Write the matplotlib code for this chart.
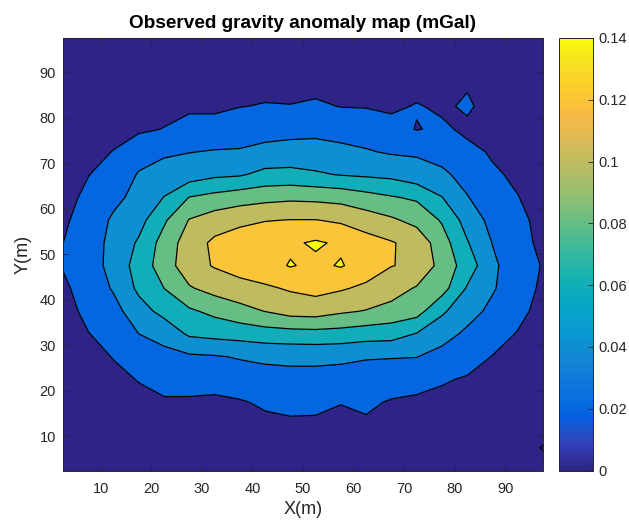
import numpy as np
import matplotlib
matplotlib.use("Agg")
import matplotlib.pyplot as plt
from matplotlib.colors import LinearSegmentedColormap, Normalize
from matplotlib.cm import ScalarMappable

# ---------------- data (mGal), grid spacing 5 m ----------------
x_m = [2.5, 7.5, 12.5, 17.5, 22.5, 27.5, 32.5, 37.5, 42.5, 47.5,
       52.5, 57.5, 62.5, 67.5, 72.5, 77.5, 82.5, 87.5, 92.5, 97.5]
y_m = [2.5, 7.5, 12.5, 17.5, 22.5, 27.5, 32.5, 37.5, 42.5, 47.5,
       52.5, 57.5, 62.5, 67.5, 72.5, 77.5, 82.5, 87.5, 92.5, 97.5]

# each list = one column (fixed x), values from y=2.5 (bottom) to y=97.5 (top)
g_x02 = [0.005, 0.005, 0.006, 0.007, 0.008, 0.010, 0.012, 0.014, 0.017, 0.021, 0.0199, 0.017, 0.014, 0.012, 0.010, 0.008, 0.007, 0.006, 0.005, 0.005]
g_x07 = [0.006, 0.007, 0.008, 0.010, 0.013, 0.016, 0.0195, 0.024, 0.027, 0.030, 0.030, 0.028, 0.024, 0.0195, 0.015, 0.012, 0.009, 0.007, 0.006, 0.005]
g_x12 = [0.007, 0.009, 0.011, 0.014, 0.017, 0.0205, 0.026, 0.033, 0.042, 0.047, 0.046, 0.043, 0.035, 0.027, 0.0205, 0.015, 0.011, 0.009, 0.007, 0.006]
g_x17 = [0.008, 0.011, 0.013, 0.017, 0.0205, 0.029, 0.040, 0.052, 0.064, 0.068, 0.0625, 0.053, 0.046, 0.0415, 0.032, 0.017, 0.014, 0.010, 0.008, 0.007]
g_x22 = [0.009, 0.011, 0.014, 0.0185, 0.0245, 0.034, 0.047, 0.066, 0.080, 0.090, 0.088, 0.077, 0.0605, 0.048, 0.037, 0.0205, 0.015, 0.012, 0.009, 0.008]
g_x27 = [0.010, 0.012, 0.015, 0.018, 0.026, 0.037, 0.063, 0.077, 0.098, 0.112, 0.110, 0.101, 0.0805, 0.050, 0.0395, 0.028, 0.016, 0.013, 0.010, 0.009]
g_x32 = [0.010, 0.012, 0.015, 0.017, 0.026, 0.0385, 0.066, 0.085, 0.107, 0.1215, 0.124, 0.110, 0.086, 0.056, 0.041, 0.030, 0.015, 0.013, 0.011, 0.009]
g_x37 = [0.010, 0.012, 0.015, 0.0185, 0.030, 0.0415, 0.068, 0.093, 0.113, 0.128, 0.131, 0.115, 0.091, 0.058, 0.0415, 0.031, 0.0195, 0.014, 0.011, 0.010]
g_x42 = [0.011, 0.013, 0.016, 0.0225, 0.032, 0.044, 0.071, 0.1005, 0.117, 0.133, 0.136, 0.119, 0.094, 0.0655, 0.045, 0.033, 0.021, 0.015, 0.012, 0.010]
g_x47 = [0.011, 0.013, 0.0175, 0.024, 0.033, 0.045, 0.072, 0.108, 0.122, 0.1412, 0.137, 0.1205, 0.096, 0.066, 0.047, 0.034, 0.0205, 0.015, 0.012, 0.010]
g_x52 = [0.011, 0.013, 0.017, 0.024, 0.033, 0.045, 0.073, 0.109, 0.126, 0.136, 0.1425, 0.1205, 0.095, 0.0625, 0.047, 0.035, 0.0225, 0.015, 0.012, 0.010]
g_x57 = [0.011, 0.013, 0.016, 0.0205, 0.032, 0.044, 0.072, 0.103, 0.122, 0.1415, 0.137, 0.117, 0.093, 0.059, 0.0445, 0.033, 0.0195, 0.014, 0.012, 0.010]
g_x62 = [0.011, 0.013, 0.0175, 0.023, 0.031, 0.0415, 0.069, 0.099, 0.116, 0.131, 0.128, 0.110, 0.087, 0.057, 0.0415, 0.031, 0.019, 0.014, 0.011, 0.010]
g_x67 = [0.010, 0.012, 0.015, 0.0185, 0.029, 0.041, 0.068, 0.093, 0.109, 0.1205, 0.1215, 0.103, 0.0815, 0.055, 0.038, 0.028, 0.016, 0.012, 0.010, 0.009]
g_x72 = [0.009, 0.011, 0.014, 0.0175, 0.025, 0.0405, 0.059, 0.088, 0.098, 0.117, 0.113, 0.094, 0.077, 0.048, 0.0375, 0.019, 0.0215, 0.012, 0.010, 0.008]
g_x77 = [0.009, 0.010, 0.013, 0.016, 0.0215, 0.033, 0.048, 0.063, 0.088, 0.0925, 0.089, 0.078, 0.0605, 0.044, 0.032, 0.0235, 0.0165, 0.012, 0.010, 0.008]
g_x82 = [0.008, 0.010, 0.012, 0.015, 0.0185, 0.027, 0.036, 0.048, 0.058, 0.071, 0.0615, 0.052, 0.041, 0.033, 0.025, 0.016, 0.023, 0.018, 0.010, 0.008]
g_x87 = [0.008, 0.009, 0.011, 0.013, 0.016, 0.0195, 0.027, 0.035, 0.042, 0.044, 0.0395, 0.034, 0.028, 0.0225, 0.018, 0.014, 0.012, 0.010, 0.009, 0.007]
g_x92 = [0.007, 0.008, 0.009, 0.011, 0.013, 0.016, 0.019, 0.025, 0.028, 0.028, 0.027, 0.025, 0.0205, 0.017, 0.014, 0.012, 0.010, 0.009, 0.008, 0.007]
g_x97 = [0.006, -0.001, 0.007, 0.009, 0.010, 0.012, 0.013, 0.014, 0.017, 0.019, 0.0155, 0.014, 0.013, 0.012, 0.010, 0.009, 0.008, 0.007, 0.006, 0.006]

contour_levels = [0.0, 0.02, 0.04, 0.06, 0.08, 0.10, 0.12, 0.14]
cbar_ticks = [0, 0.02, 0.04, 0.06, 0.08, 0.1, 0.12, 0.14]
cbar_labels = ["0", "0.02", "0.04", "0.06", "0.08", "0.1", "0.12", "0.14"]
x_ticks = [10, 20, 30, 40, 50, 60, 70, 80, 90]
y_ticks = [10, 20, 30, 40, 50, 60, 70, 80, 90]

# ---------------- parula-like colormap ----------------
parula_anchors = [
    (0.1800, 0.1400, 0.5300), (0.1959, 0.2645, 0.7279), (0.0117, 0.3875, 0.8820),
    (0.0498, 0.4586, 0.8641), (0.0793, 0.5200, 0.8312), (0.0343, 0.5966, 0.8199),
    (0.0228, 0.6535, 0.7768), (0.0843, 0.6928, 0.7062), (0.2178, 0.7250, 0.6193),
    (0.3953, 0.7459, 0.5244), (0.5709, 0.7485, 0.4494), (0.7184, 0.7411, 0.3905),
    (0.8507, 0.7299, 0.3360), (0.9739, 0.7314, 0.2666), (0.9880, 0.8066, 0.1794),
    (0.9589, 0.8949, 0.1132), (0.9763, 0.9831, 0.0538)]
anchor_pos = [0, 4, 8, 12, 16, 20, 24, 28, 32, 36, 40, 44, 48, 52, 56, 60, 63]
parula = LinearSegmentedColormap.from_list(
    "parula", [(p / 63.0, c) for p, c in zip(anchor_pos, parula_anchors)], N=256)

vmin, vmax = 0.0, 0.14
norm = Normalize(vmin, vmax)

Z = np.column_stack([g_x02, g_x07, g_x12, g_x17, g_x22, g_x27, g_x32, g_x37, g_x42, g_x47,
                     g_x52, g_x57, g_x62, g_x67, g_x72, g_x77, g_x82, g_x87, g_x92, g_x97])
X, Y = np.meshgrid(x_m, y_m)

fill_levels = [-0.05] + contour_levels + [0.2]
fill_colors = [parula(norm(contour_levels[0]))] + [parula(norm(l)) for l in contour_levels]

# ---------------- figure ----------------
FONT = "Liberation Sans"
fig = plt.figure(figsize=(6.29, 5.22), dpi=100)
ax = fig.add_axes([63 / 629, 1 - 470.5 / 522, 480 / 629, 432.5 / 522])
cax = fig.add_axes([559 / 629, 1 - 470.5 / 522, 33.5 / 629, 432.5 / 522])

ax.contourf(X, Y, Z, levels=fill_levels, colors=fill_colors)
ax.contour(X, Y, Z, levels=contour_levels, colors="black", linewidths=0.9)

ax.set_xlim(2.5, 97.5)
ax.set_ylim(2.5, 97.5)
ax.set_xticks(x_ticks)
ax.set_yticks(y_ticks)

txt = "#262626"
ax.tick_params(direction="in", length=3.5, width=0.6, top=True, right=True,
               labelsize=10.5, colors=txt)
ax.tick_params(axis="x", pad=8)
ax.tick_params(axis="y", pad=5)
for s in ax.spines.values():
    s.set_linewidth(0.7)
    s.set_color(txt)

ax.set_title("Observed gravity anomaly map (mGal)", fontsize=13.7, fontweight="bold",
             color="black", pad=7, fontfamily=FONT)
ax.set_xlabel("X(m)", fontsize=13, color=txt, labelpad=4, fontfamily=FONT)
ax.set_ylabel("Y(m)", fontsize=13, color=txt, labelpad=6, fontfamily=FONT)

sm = ScalarMappable(norm=norm, cmap=parula)
cb = fig.colorbar(sm, cax=cax, ticks=cbar_ticks)
cb.ax.set_yticklabels(cbar_labels)
cb.ax.tick_params(direction="in", length=3.5, width=0.6, labelsize=10.5, colors=txt, pad=4)
cb.outline.set_linewidth(0.7)
cb.outline.set_edgecolor(txt)

for t in ax.get_xticklabels() + ax.get_yticklabels() + cb.ax.get_yticklabels():
    t.set_fontfamily(FONT)

fig.savefig("out.png", dpi=100)
